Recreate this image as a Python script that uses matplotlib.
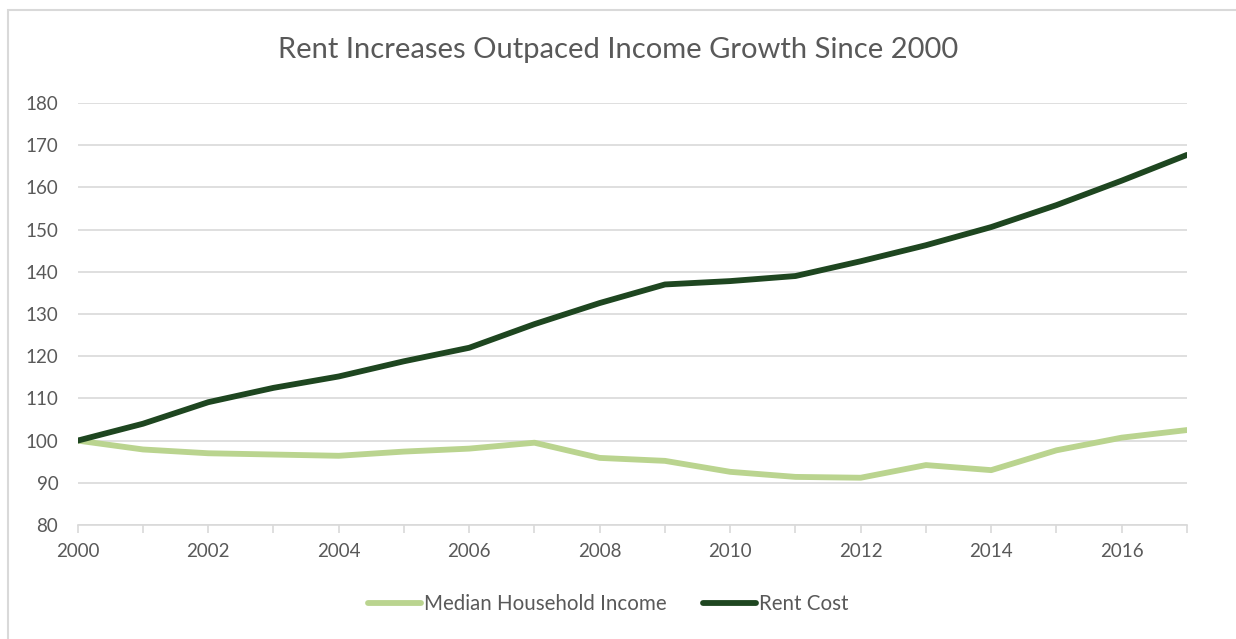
import matplotlib.pyplot as plt
from matplotlib.patches import Rectangle

# Datos (índice, 2000 = 100)
anios = list(range(2000, 2018))
ingreso_mediano = [100, 97.9, 97.0, 96.7, 96.4, 97.4, 98.1, 99.5, 95.9, 95.2,
                   92.6, 91.4, 91.2, 94.2, 93.0, 97.7, 100.7, 102.5]
costo_renta = [100, 104.0, 109.1, 112.5, 115.2, 118.8, 122.0, 127.6, 132.6, 137.0,
               137.8, 139.0, 142.5, 146.3, 150.6, 155.8, 161.6, 167.7]

color_ingreso = '#BAD48F'
color_renta = '#1E4620'
gris_texto = '#595959'
gris_linea = '#D9D9D9'

plt.rcParams['font.family'] = ['Lato', 'DejaVu Sans']

fig = plt.figure(figsize=(12.36, 6.39), dpi=100)
ax = fig.add_axes([0.0629, 0.1784, 0.8974, 0.6604])

# Borde del gráfico estilo Excel
fig.patches.append(Rectangle((8 / 1236, -0.1), 1.2, 1 - 10 / 639 + 0.1,
                             transform=fig.transFigure, fill=False,
                             edgecolor=gris_linea, linewidth=1.5))

ax.plot(anios, ingreso_mediano, color=color_ingreso, linewidth=4.2,
        solid_capstyle='round', label='Median Household Income')
ax.plot(anios, costo_renta, color=color_renta, linewidth=4.2,
        solid_capstyle='round', label='Rent Cost')

ax.set_xlim(2000, 2017)
ax.set_ylim(80, 180)
ax.set_yticks(range(80, 181, 10))
ax.set_xticks(range(2000, 2018, 2))
ax.set_xticks(range(2000, 2018), minor=True)

ax.grid(axis='y', color=gris_linea, linewidth=1.2)
ax.set_axisbelow(True)
for lado in ['top', 'right', 'left']:
    ax.spines[lado].set_visible(False)
ax.spines['bottom'].set_color(gris_linea)
ax.spines['bottom'].set_linewidth(1.2)

ax.tick_params(axis='y', length=0, pad=14, labelsize=13.5, labelcolor=gris_texto)
ax.tick_params(axis='x', which='both', length=6, color=gris_linea, width=1.2,
               labelsize=13.5, labelcolor=gris_texto, pad=7)

fig.text(0.5, 0.922, 'Rent Increases Outpaced Income Growth Since 2000',
         ha='center', va='center', fontsize=21, color=gris_texto)

fig.legend(loc='center', bbox_to_anchor=(0.492, 0.055), ncol=2, frameon=False,
           fontsize=14.8, labelcolor=gris_texto, handlelength=2.6,
           handletextpad=0.15, columnspacing=1.75)

plt.savefig('out.png', dpi=100)
